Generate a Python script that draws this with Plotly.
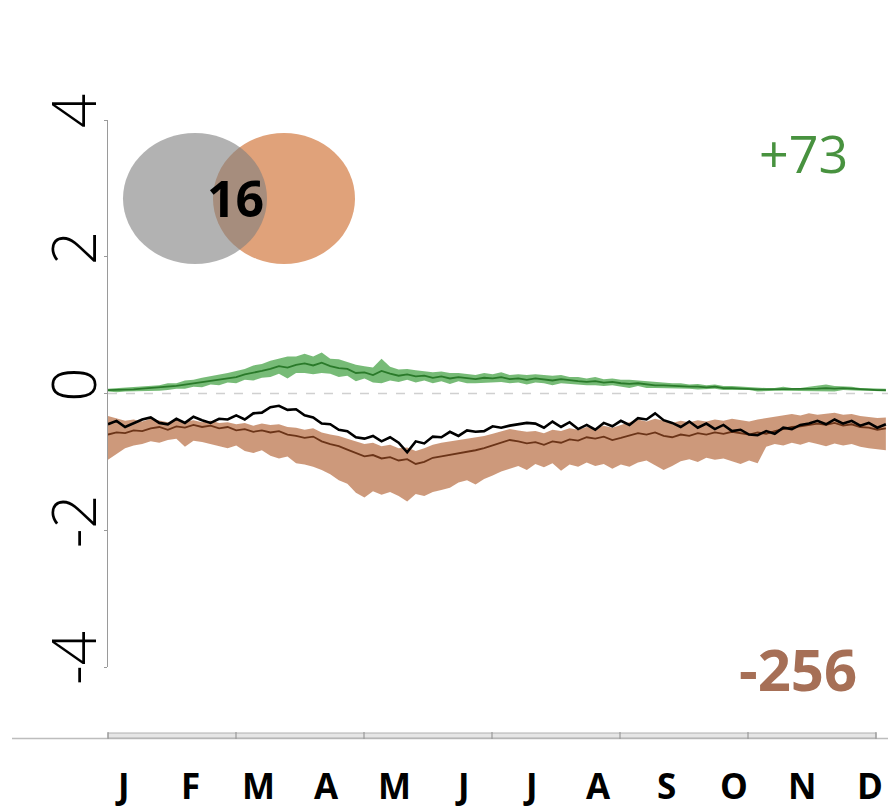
import plotly.graph_objects as go

# ---------------- data ----------------
DAYS = list(range(0, 365, 4))

GREEN_MEAN = [0.05, 0.05, 0.06, 0.06, 0.07, 0.08, 0.08, 0.10, 0.11, 0.13, 0.15, 0.16,
              0.19, 0.20, 0.23, 0.24, 0.28, 0.30, 0.33, 0.36, 0.40, 0.38, 0.42, 0.44,
              0.41, 0.45, 0.40, 0.37, 0.36, 0.30, 0.31, 0.27, 0.33, 0.29, 0.26, 0.28,
              0.25, 0.26, 0.23, 0.25, 0.22, 0.24, 0.22, 0.21, 0.23, 0.22, 0.24, 0.21,
              0.22, 0.20, 0.22, 0.21, 0.19, 0.21, 0.19, 0.18, 0.17, 0.18, 0.16, 0.17,
              0.15, 0.14, 0.15, 0.13, 0.12, 0.12, 0.11, 0.11, 0.10, 0.10, 0.09, 0.10,
              0.08, 0.08, 0.07, 0.07, 0.06, 0.06, 0.06, 0.07, 0.06, 0.06, 0.07, 0.07,
              0.08, 0.07, 0.08, 0.07, 0.06, 0.06, 0.05, 0.05]

GREEN_SPREAD = [0.02, 0.03, 0.03, 0.03, 0.03, 0.04, 0.04, 0.05, 0.04, 0.06, 0.05, 0.07,
                0.06, 0.08, 0.07, 0.09, 0.08, 0.11, 0.10, 0.12, 0.11, 0.16, 0.12, 0.14,
                0.13, 0.15, 0.11, 0.13, 0.10, 0.12, 0.09, 0.11, 0.18, 0.10, 0.09, 0.08,
                0.09, 0.07, 0.08, 0.07, 0.08, 0.06, 0.07, 0.06, 0.07, 0.06, 0.07, 0.06,
                0.06, 0.07, 0.06, 0.06, 0.07, 0.06, 0.05, 0.06, 0.05, 0.06, 0.05, 0.05,
                0.05, 0.06, 0.04, 0.05, 0.04, 0.04, 0.04, 0.04, 0.03, 0.04, 0.03, 0.03,
                0.03, 0.03, 0.03, 0.02, 0.03, 0.02, 0.02, 0.03, 0.02, 0.02, 0.03, 0.04,
                0.05, 0.04, 0.03, 0.03, 0.02, 0.02, 0.02, 0.02]

BLACK_LINE = [-0.45, -0.40, -0.49, -0.43, -0.38, -0.35, -0.43, -0.45, -0.37, -0.43, -0.34, -0.39,
              -0.43, -0.37, -0.38, -0.32, -0.38, -0.29, -0.28, -0.20, -0.18, -0.24, -0.23, -0.32,
              -0.35, -0.44, -0.45, -0.53, -0.55, -0.64, -0.66, -0.62, -0.70, -0.64, -0.72, -0.86,
              -0.70, -0.73, -0.63, -0.64, -0.56, -0.62, -0.54, -0.56, -0.55, -0.48, -0.50, -0.47,
              -0.45, -0.43, -0.44, -0.50, -0.41, -0.49, -0.42, -0.52, -0.46, -0.53, -0.43, -0.48,
              -0.40, -0.46, -0.36, -0.38, -0.29, -0.39, -0.43, -0.49, -0.41, -0.50, -0.44, -0.52,
              -0.46, -0.55, -0.53, -0.60, -0.61, -0.55, -0.59, -0.50, -0.52, -0.46, -0.44, -0.40,
              -0.45, -0.38, -0.44, -0.40, -0.47, -0.43, -0.50, -0.45]

BROWN_MEAN = [-0.60, -0.57, -0.58, -0.54, -0.55, -0.51, -0.49, -0.53, -0.48, -0.50, -0.46, -0.49,
              -0.47, -0.51, -0.49, -0.54, -0.52, -0.56, -0.54, -0.57, -0.55, -0.60, -0.62, -0.65,
              -0.63, -0.70, -0.74, -0.77, -0.82, -0.87, -0.92, -0.90, -0.95, -0.93, -0.98, -0.96,
              -1.03, -1.00, -0.94, -0.92, -0.90, -0.88, -0.85, -0.83, -0.80, -0.76, -0.72, -0.68,
              -0.70, -0.73, -0.71, -0.75, -0.70, -0.72, -0.67, -0.69, -0.64, -0.66, -0.63, -0.68,
              -0.65, -0.62, -0.58, -0.60, -0.57, -0.62, -0.64, -0.60, -0.62, -0.58, -0.60, -0.57,
              -0.59, -0.56, -0.58, -0.60, -0.57, -0.59, -0.55, -0.52, -0.49, -0.48, -0.46, -0.44,
              -0.46, -0.43, -0.47, -0.45, -0.49, -0.50, -0.53, -0.51]

BROWN_HI = [-0.33, -0.37, -0.40, -0.38, -0.41, -0.37, -0.39, -0.42, -0.38, -0.41, -0.39, -0.42,
            -0.40, -0.43, -0.42, -0.45, -0.43, -0.47, -0.44, -0.46, -0.45, -0.49, -0.50, -0.53,
            -0.51, -0.57, -0.60, -0.62, -0.66, -0.70, -0.74, -0.72, -0.77, -0.75, -0.80, -0.79,
            -0.84, -0.80, -0.75, -0.72, -0.70, -0.69, -0.66, -0.64, -0.62, -0.59, -0.55, -0.52,
            -0.54, -0.56, -0.55, -0.58, -0.53, -0.55, -0.51, -0.53, -0.49, -0.51, -0.47, -0.50,
            -0.46, -0.42, -0.38, -0.41, -0.37, -0.40, -0.43, -0.40, -0.42, -0.39, -0.41, -0.38,
            -0.40, -0.37, -0.39, -0.41, -0.38, -0.36, -0.33, -0.31, -0.30, -0.32, -0.29, -0.31,
            -0.30, -0.28, -0.31, -0.30, -0.33, -0.34, -0.36, -0.35]

BROWN_LO = [-0.97, -0.88, -0.80, -0.76, -0.74, -0.70, -0.72, -0.68, -0.66, -0.78, -0.69, -0.71,
            -0.74, -0.77, -0.80, -0.76, -0.84, -0.87, -0.83, -0.91, -0.95, -0.92, -1.02, -1.04,
            -1.07, -1.12, -1.18, -1.27, -1.32, -1.45, -1.52, -1.43, -1.48, -1.44, -1.50, -1.58,
            -1.47, -1.50, -1.44, -1.41, -1.38, -1.30, -1.27, -1.33, -1.25, -1.20, -1.14, -1.10,
            -1.06, -1.12, -1.03, -1.08, -1.02, -1.13, -1.04, -1.07, -1.01, -1.06, -1.03, -1.10,
            -1.04, -1.07, -1.01, -0.98, -1.05, -1.12, -1.06, -0.99, -0.96, -1.00, -0.94, -0.97,
            -0.95, -0.99, -1.03, -0.98, -1.02, -0.78, -0.74, -0.76, -0.72, -0.75, -0.71, -0.74,
            -0.77, -0.73, -0.76, -0.74, -0.78, -0.80, -0.82, -0.83]

MONTHS = ["J", "F", "M", "A", "M", "J", "J", "A", "S", "O", "N", "D"]
Y_TICKS = [-4, -2, 0, 2, 4]
UP_LABEL = "+73"
DOWN_LABEL = "-256"
OVERLAP_LABEL = "16"

# ---------------- layout helpers ----------------
W, H = 888, 809
ML, MR, MT, MB = 108, 0, 120, 142
PW, PH = W - ML - MR, H - MT - MB


def px(x):
    return (x - ML) / PW


def py(y):
    return (H - MB - y) / PH


GREEN_FILL = "rgba(95,175,95,0.85)"
GREEN_LINE = "#2a7a2a"
BROWN_FILL = "rgba(196,135,100,0.85)"
BROWN_LINE = "#6b3418"

fig = go.Figure()

g_hi = [m + s for m, s in zip(GREEN_MEAN, GREEN_SPREAD)]
g_lo = [m - s for m, s in zip(GREEN_MEAN, GREEN_SPREAD)]

# brown band
fig.add_trace(go.Scatter(x=DAYS, y=BROWN_HI, mode="lines", line=dict(width=0),
                         showlegend=False, hoverinfo="skip"))
fig.add_trace(go.Scatter(x=DAYS, y=BROWN_LO, mode="lines", line=dict(width=0),
                         fill="tonexty", fillcolor=BROWN_FILL, showlegend=False,
                         hoverinfo="skip"))
fig.add_trace(go.Scatter(x=DAYS, y=BROWN_MEAN, mode="lines",
                         line=dict(color=BROWN_LINE, width=1.8), showlegend=False))
# black line
fig.add_trace(go.Scatter(x=DAYS, y=BLACK_LINE, mode="lines",
                         line=dict(color="black", width=2.6), showlegend=False))
# green band
fig.add_trace(go.Scatter(x=DAYS, y=g_hi, mode="lines", line=dict(width=0),
                         showlegend=False, hoverinfo="skip"))
fig.add_trace(go.Scatter(x=DAYS, y=g_lo, mode="lines", line=dict(width=0),
                         fill="tonexty", fillcolor=GREEN_FILL, showlegend=False,
                         hoverinfo="skip"))
fig.add_trace(go.Scatter(x=DAYS, y=GREEN_MEAN, mode="lines",
                         line=dict(color=GREEN_LINE, width=1.8), showlegend=False))

shapes = []
# zero dashed line
shapes.append(dict(type="line", xref="paper", yref="y", x0=0, x1=1, y0=0, y1=0,
                   line=dict(color="#d0d0d0", width=1.5, dash="dash"), layer="below"))
# bottom baseline and month bar
shapes.append(dict(type="line", xref="paper", yref="paper", x0=px(12), x1=px(888),
                   y0=py(738.5), y1=py(738.5), line=dict(color="#bdbdbd", width=1.5)))
shapes.append(dict(type="rect", xref="paper", yref="paper", x0=px(108), x1=px(876),
                   y0=py(738), y1=py(733), fillcolor="#e6e6e6",
                   line=dict(color="#b0b0b0", width=1)))
for k in range(7):
    xx = px(108 + 128 * k)
    shapes.append(dict(type="line", xref="paper", yref="paper", x0=xx, x1=xx,
                       y0=py(739), y1=py(732), line=dict(color="#999999", width=1.2)))
# venn
shapes.append(dict(type="circle", xref="paper", yref="paper", x0=px(213), x1=px(355),
                   y0=py(264), y1=py(133), fillcolor="#e0a27a", line=dict(width=0)))
shapes.append(dict(type="circle", xref="paper", yref="paper", x0=px(123), x1=px(267),
                   y0=py(264), y1=py(133), fillcolor="rgba(127,127,127,0.6)",
                   line=dict(width=0)))

annotations = []
annotations.append(dict(text=f"<b>{OVERLAP_LABEL}</b>", xref="paper", yref="paper",
                        x=px(235), y=py(198), showarrow=False, xanchor="center",
                        yanchor="middle",
                        font=dict(family="Open Sans", size=50, color="black")))
annotations.append(dict(text=UP_LABEL, xref="paper", yref="paper", x=px(803), y=py(152),
                        showarrow=False, xanchor="center", yanchor="middle",
                        font=dict(family="Open Sans", size=52, color="#48923f")))
annotations.append(dict(text=f"<b>{DOWN_LABEL}</b>", xref="paper", yref="paper",
                        x=px(798), y=py(668), showarrow=False, xanchor="center",
                        yanchor="middle",
                        font=dict(family="Open Sans", size=58, color="#a66f56")))
for i, m in enumerate(MONTHS):
    annotations.append(dict(text=f"<b>{m}</b>", xref="paper", yref="paper",
                            x=px(122 + 68 * i), y=py(785), showarrow=False,
                            xanchor="center", yanchor="middle",
                            font=dict(family="Open Sans", size=35, color="black")))

fig.update_layout(
    width=W, height=H,
    margin=dict(l=ML, r=MR, t=MT, b=MB, pad=0),
    paper_bgcolor="white", plot_bgcolor="white",
    shapes=shapes, annotations=annotations,
    showlegend=False,
    xaxis=dict(range=[0, 365], visible=False, fixedrange=True),
    yaxis=dict(range=[-4, 4], tickvals=Y_TICKS, ticktext=[str(v) for v in Y_TICKS],
               tickangle=-90, showgrid=False, zeroline=False, showline=True,
               linecolor="#9a9a9a", linewidth=1.2, ticks="outside", ticklen=3,
               tickcolor="#9a9a9a", ticklabelstandoff=-16,
               tickfont=dict(family="Open Sans", size=60, color="black", weight=300)),
)

fig.write_html("out.html")
